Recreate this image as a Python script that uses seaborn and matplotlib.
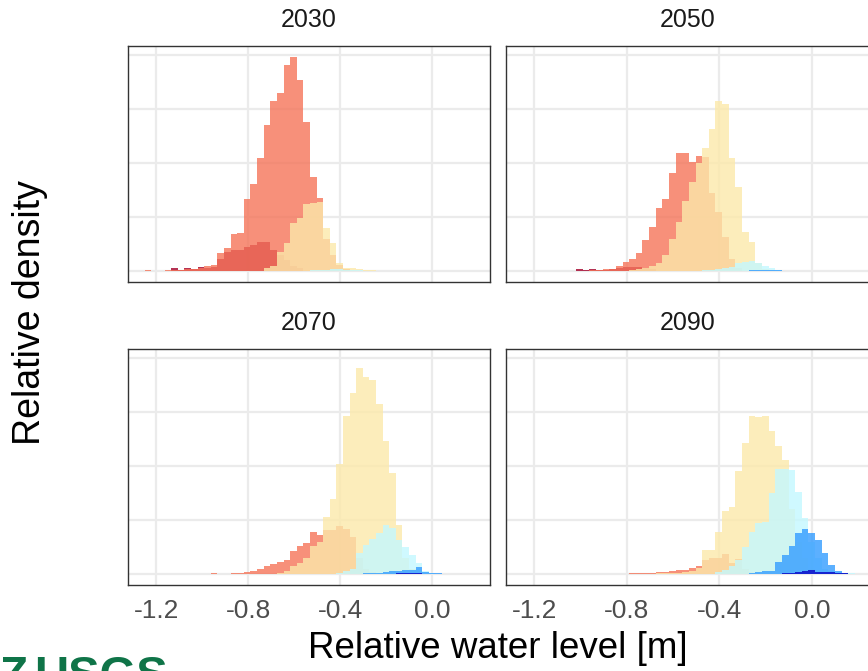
import numpy as np
import pandas as pd
import matplotlib
matplotlib.use("Agg")
import matplotlib.pyplot as plt
import seaborn as sns

# Histogram bin grid (water level, m): left edge of bin 0 and bin width
FIRST_EDGE = -0.618
BIN_WIDTH = 0.02868

years = ["2030", "2050", "2070", "2090"]
groups = ["darkred", "red", "yellow", "cyan", "blue", "darkblue"]

# Relative density per bin, given as (index of first bin, heights)
darkred_2030 = (-18, [0.05, 0.02, 0.05, 0.03, 0.07, 0.05, 0.08, 0.22, 0.35, 0.38,
                      0.39, 0.45, 0.48, 0.53, 0.53, 0.38, 0.30, 0.20, 0.10, 0.05])
red_2030 = (-22, [0.02, 0.00, 0.00, 0.01, 0.02, 0.02, 0.03, 0.04, 0.05, 0.09, 0.12,
                  0.33, 0.43, 0.68, 0.71, 1.33, 1.60, 2.09, 2.70, 3.15, 3.30, 3.80,
                  3.96, 3.54, 2.76, 1.74, 1.35, 0.60, 0.30, 0.12, 0.04])
yellow_2030 = (-4, [0.05, 0.10, 0.35, 0.51, 0.89, 0.98, 1.24, 1.25, 1.28, 0.79,
                    0.51, 0.14, 0.05, 0.05, 0.04, 0.02, 0.02])
cyan_2030 = (3, [0.01, 0.02, 0.02, 0.03, 0.03, 0.02, 0.02, 0.01])

darkred_2050 = (-14, [0.03, 0.02, 0.03, 0.02, 0.02, 0.03, 0.05, 0.07, 0.08, 0.08,
                      0.06, 0.04])
red_2050 = (-12, [0.02, 0.02, 0.03, 0.03, 0.10, 0.17, 0.23, 0.33, 0.57, 0.82, 1.16,
                  1.34, 1.81, 2.18, 2.18, 2.02, 2.13, 2.10, 1.45, 1.10, 0.63, 0.22,
                  0.05])
yellow_2050 = (-6, [0.02, 0.03, 0.05, 0.10, 0.15, 0.30, 0.60, 0.90, 1.30, 1.65,
                    2.00, 2.27, 2.62, 3.14, 3.09, 2.09, 1.56, 0.72, 0.54, 0.15,
                    0.04, 0.02])
cyan_2050 = (5, [0.01, 0.02, 0.03, 0.05, 0.08, 0.14, 0.17, 0.18, 0.14, 0.10,
                 0.05, 0.02])
blue_2050 = (12, [0.01, 0.02, 0.02, 0.02, 0.01])

red_2070 = (-12, [0.01, 0.00, 0.00, 0.01, 0.02, 0.03, 0.05, 0.09, 0.14, 0.18, 0.22,
                  0.25, 0.42, 0.51, 0.57, 0.78, 0.72, 0.81, 0.81, 0.89, 0.83, 0.68,
                  0.30, 0.10, 0.03])
yellow_2070 = (-2, [0.02, 0.05, 0.14, 0.20, 0.29, 0.51, 0.60, 1.05, 1.38, 2.04,
                    2.93, 3.35, 3.80, 3.65, 3.59, 3.14, 2.45, 1.86, 0.91, 0.30,
                    0.10, 0.05, 0.02])
cyan_2070 = (7, [0.02, 0.05, 0.10, 0.39, 0.54, 0.64, 0.75, 0.91, 0.86, 0.63, 0.50,
                 0.35, 0.20, 0.05, 0.02])
blue_2070 = (11, [0.01, 0.02, 0.02, 0.03, 0.05, 0.05, 0.07, 0.08, 0.13, 0.04, 0.02,
                  0.01])
darkblue_2070 = (16, [0.01, 0.01, 0.02, 0.01])

red_2090 = (-6, [0.01, 0.01, 0.02, 0.02, 0.03, 0.04, 0.05, 0.07, 0.08, 0.12, 0.15,
                 0.25, 0.30, 0.30, 0.37, 0.20, 0.27, 0.10, 0.03])
yellow_2090 = (-2, [0.01, 0.01, 0.02, 0.02, 0.03, 0.05, 0.12, 0.45, 0.45, 0.77,
                    1.16, 1.24, 1.90, 2.42, 2.93, 2.90, 2.93, 2.65, 2.36, 2.10,
                    1.20, 0.60, 0.30, 0.10, 0.03])
cyan_2090 = (7, [0.03, 0.08, 0.14, 0.26, 0.50, 0.78, 0.95, 0.97, 1.49, 1.95, 1.95,
                 1.92, 1.52, 1.03, 0.60, 0.30, 0.10, 0.05, 0.03, 0.02, 0.01])
blue_2090 = (12, [0.02, 0.03, 0.05, 0.05, 0.22, 0.35, 0.51, 0.75, 0.83, 0.76, 0.63,
                  0.39, 0.17, 0.05, 0.02])
darkblue_2090 = (17, [0.01, 0.02, 0.03, 0.05, 0.07, 0.04, 0.03, 0.03, 0.02, 0.02])

group_colors = {
    "darkred": "#A3002A",
    "red": "#F57459",
    "yellow": "#FCE9AA",
    "cyan": "#C4F8FF",
    "blue": "#339CFF",
    "darkblue": "#0800C4",
}

x_ticks = [-1.2, -0.8, -0.4, 0.0]
x_tick_labels = ["-1.2", "-0.8", "-0.4", "0.0"]

# ---- long table: one row per (year, group, bin) ----
tables = {
    ("2030", "darkred"): darkred_2030, ("2030", "red"): red_2030,
    ("2030", "yellow"): yellow_2030, ("2030", "cyan"): cyan_2030,
    ("2050", "darkred"): darkred_2050, ("2050", "red"): red_2050,
    ("2050", "yellow"): yellow_2050, ("2050", "cyan"): cyan_2050,
    ("2050", "blue"): blue_2050,
    ("2070", "red"): red_2070, ("2070", "yellow"): yellow_2070,
    ("2070", "cyan"): cyan_2070, ("2070", "blue"): blue_2070,
    ("2070", "darkblue"): darkblue_2070,
    ("2090", "red"): red_2090, ("2090", "yellow"): yellow_2090,
    ("2090", "cyan"): cyan_2090, ("2090", "blue"): blue_2090,
    ("2090", "darkblue"): darkblue_2090,
}
rows = []
for (year, grp), (k0, heights) in tables.items():
    for i, h in enumerate(heights):
        k = k0 + i
        rows.append({"year": year, "group": grp,
                     "level": FIRST_EDGE + (k + 0.5) * BIN_WIDTH,
                     "density": h})
df = pd.DataFrame(rows)
edges = list(FIRST_EDGE + BIN_WIDTH * np.arange(-25, 32))

sns.set_theme(style="white")
plt.rcParams["font.family"] = ["Liberation Sans", "DejaVu Sans"]

W, H = 868, 671
fig = plt.figure(figsize=(W / 100, H / 100), dpi=100)

# panel boxes in pixels: left, top, width, height
boxes = {
    "2030": (128, 46, 362, 236),
    "2050": (506, 46, 364, 236),
    "2070": (128, 349, 362, 236),
    "2090": (506, 349, 364, 236),
}

for year in years:
    l, t, w, h = boxes[year]
    ax = fig.add_axes([l / W, 1 - (t + h) / H, w / W, h / H])
    for grp in groups:
        sub = df[(df.year == year) & (df.group == grp)]
        if sub.empty:
            continue
        sns.histplot(data=sub, x="level", weights="density", bins=edges,
                     stat="count", element="bars", fill=True,
                     color=group_colors[grp], alpha=0.8, linewidth=0, ax=ax)
    ax.set_xlim(-1.322, 0.25)
    ax.set_ylim(-0.203, 4.16)
    ax.set_xticks(x_ticks)
    ax.set_yticks([0, 1, 2, 3, 4])
    ax.set_yticklabels([])
    ax.grid(True, color="#EBEBEB", linewidth=1.6)
    ax.set_axisbelow(True)
    for s in ax.spines.values():
        s.set_color("#333333")
        s.set_linewidth(1.0)
    ax.set_xlabel("")
    ax.set_ylabel("")
    bottom_row = year in ("2070", "2090")
    if bottom_row:
        ax.set_xticklabels(x_tick_labels)
        ax.tick_params(axis="x", length=4, width=1.0, color="#333333",
                       labelsize=19, labelcolor="#4D4D4D", pad=6)
    else:
        ax.set_xticklabels([])
        ax.tick_params(axis="x", length=0)
    ax.tick_params(axis="y", length=0)
    ax.set_title(year, fontsize=18, color="#1A1A1A", pad=14)

fig.text(30 / W, 1 - 313 / H, "Relative density", rotation=90,
         ha="center", va="center", fontsize=27, color="black")
fig.text(498 / W, 1 - 648 / H, "Relative water level [m]",
         ha="center", va="center", fontsize=26.5, color="black")
fig.text(0 / W, 1 - 689 / H, "Z", ha="left", va="baseline",
         fontsize=33, fontweight="bold", color="#0F7448")
fig.text(34 / W, 1 - 689 / H, "USGS", ha="left", va="baseline",
         fontsize=34, fontweight="bold", color="#0F7448")

fig.savefig("out.png", dpi=100)
